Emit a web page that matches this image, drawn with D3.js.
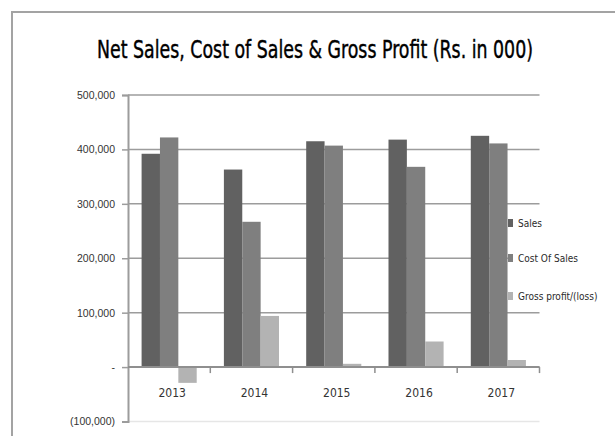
<!DOCTYPE html>
<html>
<head>
<meta charset="utf-8">
<script src="https://cdn.jsdelivr.net/npm/d3@7"></script>
<style>
  html, body { margin: 0; padding: 0; background: #ffffff; }
  svg { display: block; font-family: "Liberation Sans Narrow", "DejaVu Sans Condensed", sans-serif; }
</style>
</head>
<body>
<svg id="MyGraph" width="615" height="436"></svg>
<script>
var years = ["2013", "2014", "2015", "2016", "2017"];
var seriesNames = ["Sales", "Cost Of Sales", "Gross profit/(loss)"];
var sales = [392000, 363000, 415000, 418000, 425000];
var costOfSales = [422000, 267000, 407000, 368000, 411000];
var grossProfit = [-29000, 94000, 6000, 47000, 13000];
var yTicks = [-100000, 0, 100000, 200000, 300000, 400000, 500000];
var titleText = "Net Sales, Cost of Sales & Gross Profit (Rs. in 000)";

var series = [sales, costOfSales, grossProfit];
var colors = ["#616161", "#7f7f7f", "#b3b3b3"];

var data = years.map(function(yr, i) {
  return { year: yr, values: series.map(function(s, k) { return { key: seriesNames[k], value: s[i] }; }) };
});

var svg = d3.select("#MyGraph");

// outer chart border (cut off at right and bottom)
svg.append("path")
    .attr("d", "M12,436V12H615")
    .attr("fill", "none")
    .attr("stroke", "#a3a3a3")
    .attr("stroke-width", 2);

svg.append("text")
    .attr("x", 97)
    .attr("y", 58)
    .attr("textLength", 436)
    .attr("lengthAdjust", "spacingAndGlyphs")
    .style("font-size", "24px")
    .attr("fill", "#000")
    .attr("stroke", "#000")
    .attr("stroke-width", 0.4)
    .text(titleText);

var plotLeft = 128, plotRight = 539.5, plotTop = 95, plotBottom = 421.5;

var x = d3.scaleBand()
    .domain(years)
    .range([plotLeft, plotRight]);

var x1 = d3.scaleBand()
    .domain(seriesNames)
    .range([0, x.bandwidth()])
    .paddingInner(0)
    .paddingOuter(0.74);

var y = d3.scaleLinear()
    .domain([-100000, 500000])
    .range([plotBottom, plotTop]);

var z = d3.scaleOrdinal().domain(seriesNames).range(colors);

function fmt(v) {
  if (v === 0) return "-";
  var s = d3.format(",")(Math.abs(v));
  return v < 0 ? "(" + s + ")" : s;
}

// gridlines
svg.append("g")
    .selectAll("line")
    .data(yTicks)
    .enter().append("line")
    .attr("x1", plotLeft)
    .attr("x2", plotRight)
    .attr("y1", function(d) { return y(d); })
    .attr("y2", function(d) { return y(d); })
    .attr("stroke", function(d) { return d < 0 ? "#e6e6e6" : "#9c9c9c"; })
    .attr("stroke-width", 1.5);

// bars
var groups = svg.append("g")
    .selectAll("g")
    .data(data)
    .enter().append("g")
    .attr("transform", function(d) { return "translate(" + x(d.year) + ",0)"; });

groups.selectAll("rect")
    .data(function(d) { return d.values; })
    .enter().append("rect")
    .attr("x", function(d) { return x1(d.key); })
    .attr("width", x1.bandwidth())
    .attr("y", function(d) { return y(Math.max(0, d.value)); })
    .attr("height", function(d) { return Math.abs(y(d.value) - y(0)); })
    .attr("fill", function(d) { return z(d.key); });

// y axis
var yAxis = svg.append("g")
    .attr("transform", "translate(" + plotLeft + ",0)")
    .call(d3.axisLeft(y).tickValues(yTicks).tickFormat(fmt).tickSize(6).tickPadding(7));
yAxis.select(".domain").attr("stroke", "#9c9c9c").attr("stroke-width", 2);
yAxis.selectAll(".tick line").attr("stroke", "#9c9c9c").attr("stroke-width", 1.5);
yAxis.selectAll("text").attr("fill", "#333").style("font-size", "10.5px");

// x axis at zero
var xAxis = svg.append("g")
    .attr("transform", "translate(0," + y(0) + ")");
xAxis.append("line")
    .attr("x1", plotLeft).attr("x2", plotRight)
    .attr("stroke", "#8f8f8f").attr("stroke-width", 2);
xAxis.selectAll("line.tk")
    .data(years)
    .enter().append("line")
    .attr("class", "tk")
    .attr("x1", function(d) { return x(d) + x.bandwidth(); })
    .attr("x2", function(d) { return x(d) + x.bandwidth(); })
    .attr("y1", 0).attr("y2", 6)
    .attr("stroke", "#8f8f8f").attr("stroke-width", 1.5);
xAxis.selectAll("text")
    .data(years)
    .enter().append("text")
    .attr("x", function(d) { return x(d) + x.bandwidth() / 2 + 3; })
    .attr("y", 30)
    .attr("text-anchor", "middle")
    .attr("fill", "#333")
    .style("font-size", "12px")
    .text(function(d) { return d; });

// legend (white box hides the gridline behind it)
svg.append("rect")
    .attr("x", 508)
    .attr("y", 216)
    .attr("width", 100)
    .attr("height", 88)
    .attr("fill", "#fff");

var legend = svg.append("g")
    .selectAll("g")
    .data(seriesNames)
    .enter().append("g")
    .attr("transform", function(d, i) { return "translate(508," + [223, 258, 296][i] + ")"; });

legend.append("rect")
    .attr("x", 0)
    .attr("y", -4)
    .attr("width", 5)
    .attr("height", 8)
    .attr("fill", z);

legend.append("text")
    .attr("x", 10)
    .attr("y", 0)
    .attr("dy", "0.35em")
    .attr("fill", "#2a2a2a")
    .style("font-size", "10px")
    .text(function(d) { return d; });
</script>
</body>
</html>
